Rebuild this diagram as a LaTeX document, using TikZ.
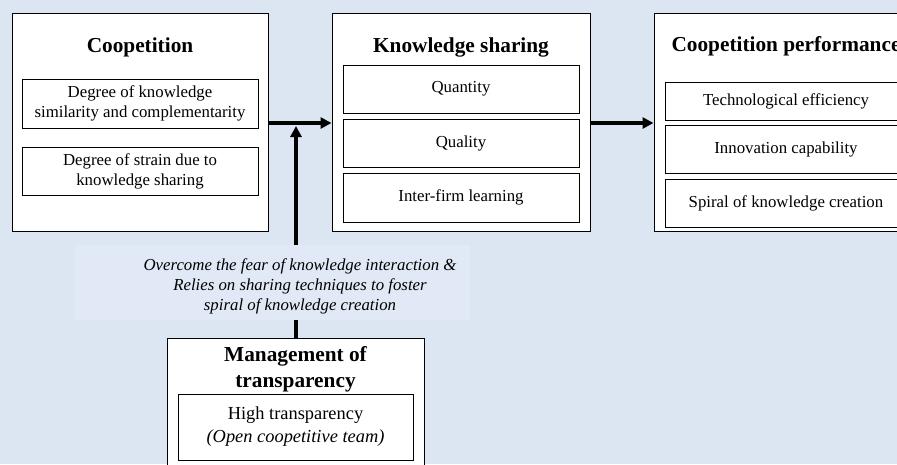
\documentclass[tikz,border=0pt]{standalone}
\usepackage{fontspec}
\setmainfont{Liberation Serif}
\usetikzlibrary{arrows.meta}
\definecolor{bg}{HTML}{DCE6F2}
\definecolor{lblbg}{HTML}{E0E9F5}
\begin{document}
\begin{tikzpicture}[x=1pt,y=-1pt,
  outerbox/.style={draw=black,line width=1pt,fill=white,inner sep=0pt},
  innerbox/.style={draw=black,line width=0.9pt,fill=white,inner sep=0pt,align=center,
     font=\fontsize{16.8}{20}\selectfont},
  titletext/.style={font=\fontsize{21.3}{26}\selectfont\bfseries,align=center,inner sep=0pt},
  arr/.style={line width=3.5pt,-{Triangle[length=11pt,width=11pt]}},
  thick line/.style={line width=3.5pt}]
\useasboundingbox (0,0) rectangle (897,464);
\clip (0,0) rectangle (897,464);
\fill[bg] (0,0) rectangle (897,464);

% Coopetition
\node[outerbox,minimum width=256pt,minimum height=218pt] (coop) at (140,122) {};
\node[titletext] (cooptitle) at (140,47) {Coopetition};
\node[innerbox,minimum width=236pt,minimum height=49pt] (c1) at (140,103.5) {Degree of knowledge\\similarity and complementarity};
\node[innerbox,minimum width=236pt,minimum height=48pt] (c2) at (140,171) {Degree of strain due to\\knowledge sharing};

% Knowledge sharing
\node[outerbox,minimum width=258pt,minimum height=218pt] (ks) at (461,122) {};
\node[titletext] (kstitle) at (461,47) {Knowledge sharing};
\node[innerbox,minimum width=236pt,minimum height=48pt] (k1) at (461,89) {Quantity};
\node[innerbox,minimum width=236pt,minimum height=48pt] (k2) at (461,143) {Quality};
\node[innerbox,minimum width=236pt,minimum height=49pt] (k3) at (461,197.5) {Inter-firm learning};

% Coopetition performance
\node[outerbox,minimum width=264pt,minimum height=218pt] (cp) at (786,122) {};
\node[titletext] (cptitle) at (786,46) {Coopetition performance};
\node[innerbox,minimum width=242pt,minimum height=38pt] (p1) at (786,101) {Technological efficiency};
\node[innerbox,minimum width=242pt,minimum height=48pt] (p2) at (786,149) {Innovation capability};
\node[innerbox,minimum width=242pt,minimum height=48pt] (p3) at (786,203) {Spiral of knowledge creation};

% Label
\node[fill=lblbg,minimum width=395pt,minimum height=75pt,inner sep=0pt] (lbl) at (272.5,282.5) {};
\node[align=center,inner sep=0pt,font=\fontsize{16.8}{20}\selectfont\itshape] (lbltext) at (300,286)
  {Overcome the fear of knowledge interaction \&\\Relies on sharing techniques to foster\\spiral of knowledge creation};

% Management of transparency
\node[outerbox,minimum width=257pt,minimum height=132pt] (mg) at (295.5,404) {};
\node[titletext] (mgtitle) at (295.5,369) {Management of\\transparency};
\node[innerbox,minimum width=235pt,minimum height=66pt,font=\fontsize{18.4}{23}\selectfont] (m1) at (295.5,427)
  {High transparency\\\textit{(Open coopetitive team)}};

% Connectors
\coordinate (j) at (296,123);
\draw[arr] (coop.east |- j) -- (ks.west |- j);
\draw[arr] (ks.east |- j) -- (cp.west |- j);
\draw[arr] (lbl.north -| j) -- ([yshift=-3pt]j);
\draw[thick line] (mg.north -| j) -- (lbl.south -| j);
\end{tikzpicture}
\end{document}
